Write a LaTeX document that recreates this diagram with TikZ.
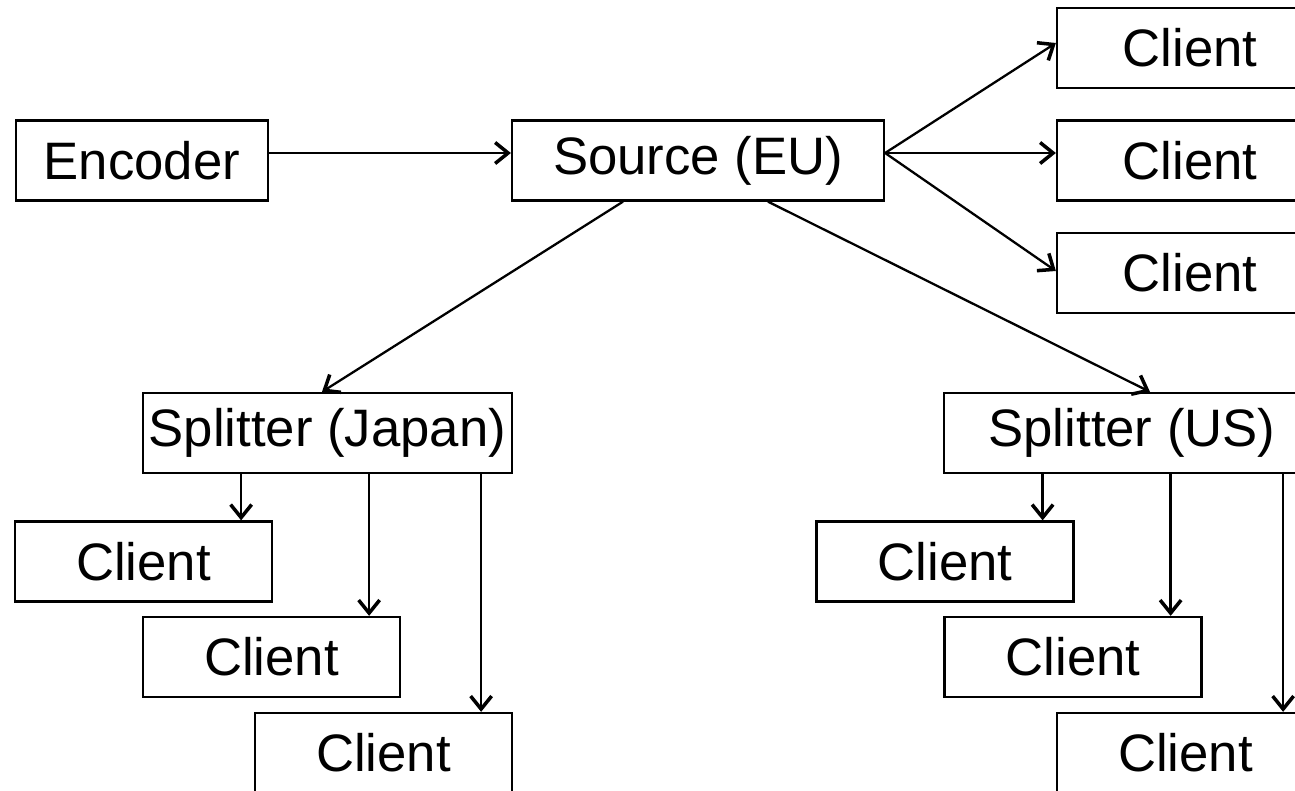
\documentclass[tikz,border=0pt]{standalone}
\usepackage{fontspec}
\setmainfont{Liberation Sans}
\usetikzlibrary{arrows.meta}

\tikzset{
	box/.style={draw, line width=1.3pt, inner sep=0pt, minimum height=1.6cm, font=\fontsize{30}{36}\selectfont},
	arr/.style={line width=1.3pt, -{Straight Barb[length=0.26cm,width=0.42cm,line width=2pt]}},
	ln/.style={line width=1.3pt}
}

\begin{document}
\begin{tikzpicture}[x=0.02cm, y=-0.02cm]
				\useasboundingbox (0,0) rectangle (1295,791);
				
				% top row
				\node[box, minimum width=5.04cm] (enc) at (142,160.5) {Encoder};
				\node[box, minimum width=7.44cm] (src) at (698,160.5) {Source (EU)};
				
				% clients of the source
				\foreach \x/\y in
				{cl1/48, cl2/160.5, cl3/273}{
					\node[box, minimum width=5.32cm] (\x) at (1190,\y) {Client};
				}
				
				% splitters
				\node[box, minimum width=7.38cm] (jsp) at (327.5,433) {Splitter (Japan)};
				\node[box, minimum width=7.52cm] (usp) at (1132,433) {Splitter (US)};
				
				% clients of the splitters
				\foreach \x/\y/\z in
				{ja1/143.5/561.5, ja2/271.5/657, ja3/383.5/753,
				 us1/945/561.5, us2/1073/657, us3/1185.5/753}{
					\node[box, minimum width=5.14cm] (\x) at (\y,\z) {Client};
					\coordinate (\x t) at ([xshift=-0.64cm]\x.north east);
				}
				
				\coordinate (srcE) at ([yshift=0.15cm]src.east);
				\draw[arr] ([yshift=0.15cm]enc.east) -- ([yshift=0.15cm]src.west);
				\draw[arr] (srcE) -- ([yshift=0.1cm]cl1.west);
				\draw[arr] (srcE) -- ([yshift=0.15cm]cl2.west);
				\draw[arr] (srcE) -- ([yshift=0.04cm]cl3.west);
				
				\draw[arr] ([xshift=-1.5cm]src.south) -- ([xshift=-0.11cm]jsp.north);
				\draw[arr] ([xshift=1.4cm]src.south) -- ([xshift=0.36cm]usp.north);
				
				\foreach \x in {ja1,ja2,ja3}{
					\draw[arr] (jsp.south -| \x t) -- (\x t);
				}
				\foreach \x in {us1,us2,us3}{
					\draw[arr] (usp.south -| \x t) -- (\x t);
				}
			\end{tikzpicture}
\end{document}
